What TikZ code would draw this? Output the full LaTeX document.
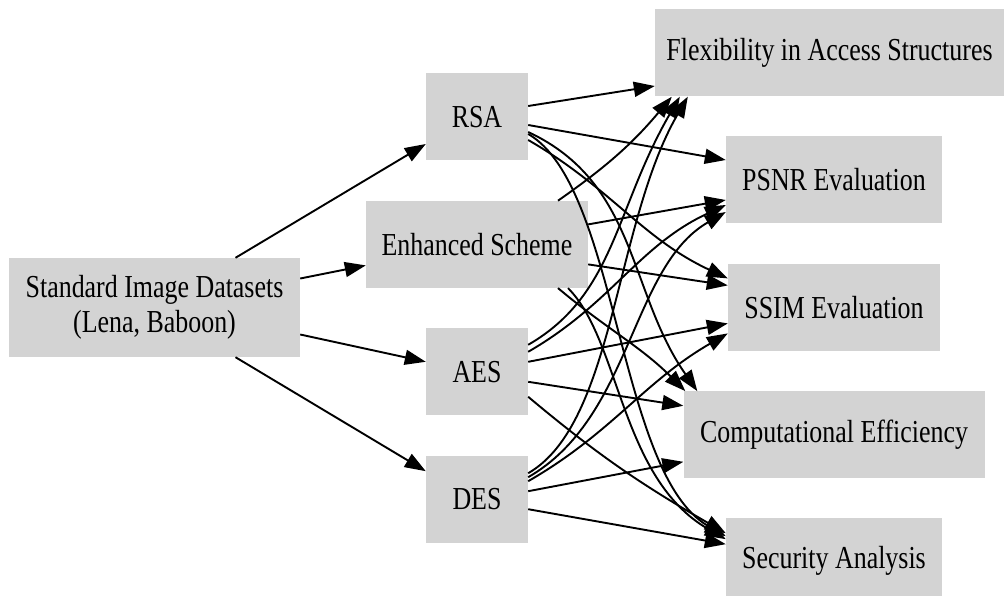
\documentclass[tikz,border=0pt]{standalone}
\usepackage{fontspec}
\setmainfont{Liberation Serif}
\newfontfamily\boxfont[FakeStretch=0.81]{Liberation Serif}
\usetikzlibrary{positioning,arrows.meta}

\definecolor{boxgray}{HTML}{D3D3D3}
\tikzset{
	box/.style={rectangle, fill=boxgray, inner sep=0pt, minimum height=87pt,
		align=center, font=\boxfont\fontsize{32}{35}\selectfont},
	links/.style={every edge/.append style={line width=1.9pt, -{Triangle[length=21pt,width=15pt]}}},
}

\begin{document}
\begin{tikzpicture}[x=1pt,y=1pt]
	\useasboundingbox (0,0) rectangle (1004,-596);
	% Draw the boxes
	\node[box, minimum width=291pt, minimum height=99pt] (std) at (154.5,-307.5) {Standard Image Datasets\\(Lena, Baboon)};
	\node[box, minimum width=102pt] (rsa) at (477,-117) {RSA};
	\node[box, minimum width=222pt, below=40pt of rsa] (enh) {Enhanced Scheme};
	\node[box, minimum width=102pt, below=40pt of enh] (aes) {AES};
	\node[box, minimum width=102pt, below=40pt of aes] (des) {DES};
	\node[box, minimum width=349pt] (flex) at (829.5,-53) {Flexibility in Access Structures};
	\node[box, minimum width=216pt] (psnr) at (834,-180) {PSNR Evaluation};
	\node[box, minimum width=212pt, below=40pt of psnr] (ssim) {SSIM Evaluation};
	\node[box, minimum width=301pt, below=40pt of ssim] (comp) {Computational Efficiency};
	\node[box, minimum width=216pt, below=39pt of comp] (sec) {Security Analysis};
	% Connect the datasets with the schemes
	\path[links]
		([xshift=81pt]std.north) edge ([yshift=-27pt]rsa.west)
		([yshift=29pt]std.east) edge ([yshift=-21pt]enh.west)
		([yshift=-27pt]std.east) edge ([yshift=10pt]aes.west)
		([xshift=81pt]std.south) edge ([yshift=28pt]des.west);
	% Connect the schemes with the criteria
	\path[links]
		([yshift=11pt]rsa.east) edge ([yshift=-33pt]flex.west)
		([yshift=-8pt]rsa.east) edge ([yshift=20pt]psnr.west)
		([yshift=-23pt]rsa.east) edge[out=-30, in=155] ([yshift=29pt]ssim.west)
		([yshift=-15pt]rsa.east) edge[out=-25, in=125] ([xshift=14pt]comp.north west)
		([yshift=-17pt]rsa.east) edge[out=-30, in=150, out distance=104pt, in distance=125pt] ([yshift=25pt]sec.west);
	\path[links]
		([xshift=81pt]enh.north) edge[out=35, in=-130] ([xshift=17pt]flex.south west)
		([yshift=20pt]enh.east) edge ([yshift=-20pt]psnr.west)
		([yshift=-20pt]enh.east) edge ([yshift=22pt]ssim.west)
		([xshift=81pt]enh.south) edge[out=-40, in=135] ([xshift=2pt]comp.north west)
		([xshift=91pt]enh.south) edge[out=-45, in=150, out distance=74pt, in distance=122pt] ([yshift=22pt]sec.west);
	\path[links]
		([yshift=27pt]aes.east) edge[out=30, in=-120, out distance=100pt, in distance=130pt] ([xshift=25pt]flex.south west)
		([yshift=20pt]aes.east) edge[out=30, in=-155] ([yshift=-25pt]psnr.west)
		([yshift=10pt]aes.east) edge ([yshift=-16pt]ssim.west)
		([yshift=-10pt]aes.east) edge ([yshift=29pt]comp.west)
		([yshift=-25pt]aes.east) edge[out=-40, in=150] ([yshift=28pt]sec.west);
	\path[links]
		([yshift=26pt]des.east) edge[out=30, in=-120, out distance=100pt, in distance=147pt] ([xshift=33pt]flex.south west)
		([yshift=22pt]des.east) edge[out=30, in=-150, out distance=120pt, in distance=110pt] ([yshift=-32pt]psnr.west)
		([yshift=18pt]des.east) edge[out=30, in=-150] ([yshift=-26pt]ssim.west)
		([yshift=8pt]des.east) edge ([yshift=-27pt]comp.west)
		([yshift=-10pt]des.east) edge ([yshift=17pt]sec.west);
\end{tikzpicture}
\end{document}
